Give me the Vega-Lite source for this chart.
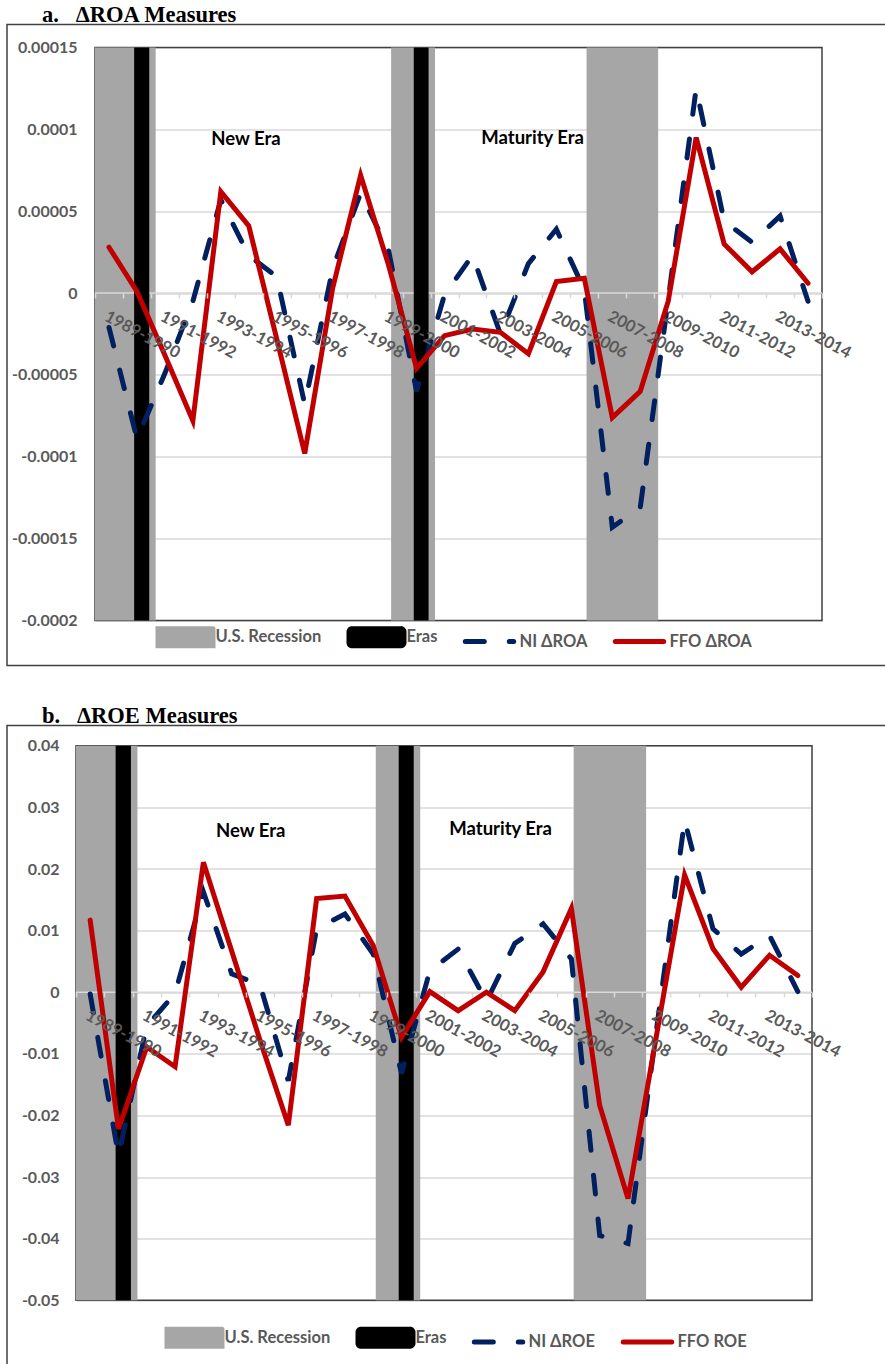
{
  "$schema": "https://vega.github.io/schema/vega-lite/v6.json",
  "background": "white",
  "padding": {"left": 6, "top": 2.5, "right": 0, "bottom": 0},
  "bounds": "flush",
  "spacing": 60,
  "config": {
    "view": {"stroke": "#404040", "strokeWidth": 1.5},
    "axis": {"labelFont": "Lato", "labelFontWeight": "bold", "labelColor": "#595959"},
    "legend": {"labelFont": "Lato", "labelFontWeight": "bold", "labelColor": "#595959", "labelFontSize": 16.5},
    "title": {"font": "Liberation Serif", "fontWeight": "bold", "fontSize": 22.5, "color": "#000000", "anchor": "start", "frame": "group", "baseline": "alphabetic", "offset": -1.5, "dx": 35}
  },
  "datasets": {
    "bands": [
      {"start": 1988.5, "end": 1990.67, "series": "U.S. Recession"},
      {"start": 1999.09, "end": 2000.66, "series": "U.S. Recession"},
      {"start": 2006.08, "end": 2008.64, "series": "U.S. Recession"}
    ],
    "eras": [
      {"start": 1989.9, "end": 1990.44, "series": "Eras"},
      {"start": 1999.9, "end": 2000.43, "series": "Eras"}
    ],
    "bands_b": [
      {"start": 1988.5, "end": 1990.67, "series": "U.S. Recession"},
      {"start": 1999.09, "end": 2000.66, "series": "U.S. Recession"},
      {"start": 2006.08, "end": 2008.64, "series": "U.S. Recession"}
    ],
    "eras_b": [
      {"start": 1989.9, "end": 1990.44, "series": "Eras"},
      {"start": 1999.9, "end": 2000.43, "series": "Eras"}
    ],
    "notes_a": [
      {"year": 1993.9, "value": 0.0000939, "label": "New Era"},
      {"year": 2004.15, "value": 0.000095, "label": "Maturity Era"}
    ],
    "notes_b": [
      {"year": 1994.67, "value": 0.0261, "label": "New Era"},
      {"year": 2003.5, "value": 0.0265, "label": "Maturity Era"}
    ],
    "roa": [
      {"year": 1989, "series": "NI ΔROA", "value": -0.000021},
      {"year": 1990, "series": "NI ΔROA", "value": -0.000089},
      {"year": 1991, "series": "NI ΔROA", "value": -0.000049},
      {"year": 1992, "series": "NI ΔROA", "value": -0.000005},
      {"year": 1993, "series": "NI ΔROA", "value": 0.000057},
      {"year": 1994, "series": "NI ΔROA", "value": 0.000023},
      {"year": 1995, "series": "NI ΔROA", "value": 0.000010},
      {"year": 1996, "series": "NI ΔROA", "value": -0.000068},
      {"year": 1997, "series": "NI ΔROA", "value": 0.000015},
      {"year": 1998, "series": "NI ΔROA", "value": 0.000061},
      {"year": 1999, "series": "NI ΔROA", "value": 0.000026},
      {"year": 2000, "series": "NI ΔROA", "value": -0.000060},
      {"year": 2001, "series": "NI ΔROA", "value": -0.000001},
      {"year": 2002, "series": "NI ΔROA", "value": 0.000023},
      {"year": 2003, "series": "NI ΔROA", "value": -0.000025},
      {"year": 2004, "series": "NI ΔROA", "value": 0.000018},
      {"year": 2005, "series": "NI ΔROA", "value": 0.000039},
      {"year": 2006, "series": "NI ΔROA", "value": 0.000002},
      {"year": 2007, "series": "NI ΔROA", "value": -0.000143},
      {"year": 2008, "series": "NI ΔROA", "value": -0.000131},
      {"year": 2009, "series": "NI ΔROA", "value": -0.000004},
      {"year": 2010, "series": "NI ΔROA", "value": 0.000125},
      {"year": 2011, "series": "NI ΔROA", "value": 0.000044},
      {"year": 2012, "series": "NI ΔROA", "value": 0.000031},
      {"year": 2013, "series": "NI ΔROA", "value": 0.000047},
      {"year": 2014, "series": "NI ΔROA", "value": -0.000005},
      {"year": 1989, "series": "FFO ΔROA", "value": 0.000028},
      {"year": 1990, "series": "FFO ΔROA", "value": 0.000001},
      {"year": 1991, "series": "FFO ΔROA", "value": -0.000038},
      {"year": 1992, "series": "FFO ΔROA", "value": -0.000078},
      {"year": 1993, "series": "FFO ΔROA", "value": 0.000062},
      {"year": 1994, "series": "FFO ΔROA", "value": 0.000041},
      {"year": 1995, "series": "FFO ΔROA", "value": -0.000028},
      {"year": 1996, "series": "FFO ΔROA", "value": -0.000098},
      {"year": 1997, "series": "FFO ΔROA", "value": 0.000003},
      {"year": 1998, "series": "FFO ΔROA", "value": 0.000072},
      {"year": 1999, "series": "FFO ΔROA", "value": 0.000017},
      {"year": 2000, "series": "FFO ΔROA", "value": -0.000046},
      {"year": 2001, "series": "FFO ΔROA", "value": -0.000026},
      {"year": 2002, "series": "FFO ΔROA", "value": -0.000022},
      {"year": 2003, "series": "FFO ΔROA", "value": -0.000024},
      {"year": 2004, "series": "FFO ΔROA", "value": -0.000037},
      {"year": 2005, "series": "FFO ΔROA", "value": 0.000007},
      {"year": 2006, "series": "FFO ΔROA", "value": 0.000009},
      {"year": 2007, "series": "FFO ΔROA", "value": -0.000076},
      {"year": 2008, "series": "FFO ΔROA", "value": -0.000060},
      {"year": 2009, "series": "FFO ΔROA", "value": -0.000005},
      {"year": 2010, "series": "FFO ΔROA", "value": 0.000095},
      {"year": 2011, "series": "FFO ΔROA", "value": 0.000030},
      {"year": 2012, "series": "FFO ΔROA", "value": 0.000013},
      {"year": 2013, "series": "FFO ΔROA", "value": 0.000027},
      {"year": 2014, "series": "FFO ΔROA", "value": 0.000006}
    ],
    "roe": [
      {"year": 1989, "series": "NI ΔROE", "value": -0.0003},
      {"year": 1990, "series": "NI ΔROE", "value": -0.0265},
      {"year": 1991, "series": "NI ΔROE", "value": -0.0055},
      {"year": 1992, "series": "NI ΔROE", "value": -0.0002},
      {"year": 1993, "series": "NI ΔROE", "value": 0.0163},
      {"year": 1994, "series": "NI ΔROE", "value": 0.0030},
      {"year": 1995, "series": "NI ΔROE", "value": 0.0012},
      {"year": 1996, "series": "NI ΔROE", "value": -0.0144},
      {"year": 1997, "series": "NI ΔROE", "value": 0.0103},
      {"year": 1998, "series": "NI ΔROE", "value": 0.0127},
      {"year": 1999, "series": "NI ΔROE", "value": 0.0062},
      {"year": 2000, "series": "NI ΔROE", "value": -0.0132},
      {"year": 2001, "series": "NI ΔROE", "value": 0.0035},
      {"year": 2002, "series": "NI ΔROE", "value": 0.0070},
      {"year": 2003, "series": "NI ΔROE", "value": -0.0015},
      {"year": 2004, "series": "NI ΔROE", "value": 0.0079},
      {"year": 2005, "series": "NI ΔROE", "value": 0.0111},
      {"year": 2006, "series": "NI ΔROE", "value": 0.0054},
      {"year": 2007, "series": "NI ΔROE", "value": -0.0395},
      {"year": 2008, "series": "NI ΔROE", "value": -0.0408},
      {"year": 2009, "series": "NI ΔROE", "value": -0.0063},
      {"year": 2010, "series": "NI ΔROE", "value": 0.0279},
      {"year": 2011, "series": "NI ΔROE", "value": 0.0103},
      {"year": 2012, "series": "NI ΔROE", "value": 0.0062},
      {"year": 2013, "series": "NI ΔROE", "value": 0.0092},
      {"year": 2014, "series": "NI ΔROE", "value": 0.0001},
      {"year": 1989, "series": "FFO ROE", "value": 0.0117},
      {"year": 1990, "series": "FFO ROE", "value": -0.0222},
      {"year": 1991, "series": "FFO ROE", "value": -0.0089},
      {"year": 1992, "series": "FFO ROE", "value": -0.0121},
      {"year": 1993, "series": "FFO ROE", "value": 0.0211},
      {"year": 1994, "series": "FFO ROE", "value": 0.0067},
      {"year": 1995, "series": "FFO ROE", "value": -0.0078},
      {"year": 1996, "series": "FFO ROE", "value": -0.0216},
      {"year": 1997, "series": "FFO ROE", "value": 0.0152},
      {"year": 1998, "series": "FFO ROE", "value": 0.0156},
      {"year": 1999, "series": "FFO ROE", "value": 0.0076},
      {"year": 2000, "series": "FFO ROE", "value": -0.0073},
      {"year": 2001, "series": "FFO ROE", "value": 0.0001},
      {"year": 2002, "series": "FFO ROE", "value": -0.0030},
      {"year": 2003, "series": "FFO ROE", "value": 0.0000},
      {"year": 2004, "series": "FFO ROE", "value": -0.0030},
      {"year": 2005, "series": "FFO ROE", "value": 0.0033},
      {"year": 2006, "series": "FFO ROE", "value": 0.0136},
      {"year": 2007, "series": "FFO ROE", "value": -0.0184},
      {"year": 2008, "series": "FFO ROE", "value": -0.0335},
      {"year": 2009, "series": "FFO ROE", "value": -0.0072},
      {"year": 2010, "series": "FFO ROE", "value": 0.0190},
      {"year": 2011, "series": "FFO ROE", "value": 0.0071},
      {"year": 2012, "series": "FFO ROE", "value": 0.0008},
      {"year": 2013, "series": "FFO ROE", "value": 0.0060},
      {"year": 2014, "series": "FFO ROE", "value": 0.0027}
    ]
  },
  "resolve": {"scale": {"color": "independent"}, "legend": {"color": "independent"}},
  "vconcat": [
    {
      "width": 880,
      "height": 641,
      "title": {"text": "a.\u00a0\u00a0\u00a0ΔROA Measures"},
      "resolve": {"axis": {"x": "independent", "y": "independent"}},
      "layer": [
        {
          "data": {"values": [{}]},
          "mark": {"type": "rect", "fill": "transparent", "stroke": "#404040", "strokeWidth": 1.5},
          "encoding": {
            "x": {"datum": 1988.5, "type": "quantitative",
              "scale": {"domain": [1988.5, 2014.5], "range": [88, 815], "nice": false, "zero": false},
              "axis": {"orient": "bottom", "offset": -372.6, "values": [1988.5,1989.5,1990.5,1991.5,1992.5,1993.5,1994.5,1995.5,1996.5,1997.5,1998.5,1999.5,2000.5,2001.5,2002.5,2003.5,2004.5,2005.5,2006.5,2007.5,2008.5,2009.5,2010.5,2011.5,2012.5,2013.5,2014.5], "labels": false, "domain": false, "grid": false, "ticks": true, "tickColor": "#D9D9D9", "tickWidth": 1.5, "tickSize": 5, "title": null, "zindex": 1}},
            "x2": {"datum": 2014.5},
            "y": {"datum": -0.0002, "type": "quantitative",
              "scale": {"domain": [-0.0002, 0.00015], "range": [596, 23], "nice": false, "zero": false},
              "axis": {"orient": "left", "offset": -88, "values": [-0.0002, -0.00015, -0.0001, -0.00005, 0, 0.00005, 0.0001, 0.00015], "labelExpr": "'' + datum.value", "labelPadding": 18, "labelFontSize": 16, "ticks": false, "domain": false, "grid": true, "gridColor": "#D9D9D9", "gridWidth": 1.5, "title": null}},
            "y2": {"datum": 0.00015}
          }
        },
        {
          "data": {"name": "bands"},
          "mark": {"type": "rect"},
          "encoding": {
            "x": {"field": "start", "type": "quantitative", "axis": null},
            "x2": {"field": "end"},
            "y": {"datum": -0.0002, "type": "quantitative", "axis": null},
            "y2": {"datum": 0.00015},
            "color": {"field": "series", "type": "nominal",
              "scale": {"domain": ["U.S. Recession", "Eras", "NI ΔROA", "FFO ΔROA"], "range": ["#A6A6A6", "#000000", "#002060", "#C00000"]},
              "legend": {"orient": "none", "legendX": 148.5, "legendY": 582.5, "direction": "horizontal", "columns": 4, "title": null, "padding": 0, "symbolSize": 3025, "symbolStrokeWidth": 5, "labelOffset": 0, "columnPadding": 17, "labelLimit": 300,
                "encode": {"symbols": {"update": {
                  "shape": {"signal": "datum.value == 'U.S. Recession' ? 'M-1,-0.31H1V0.31H-1Z' : datum.value == 'Eras' ? 'M-0.89,-0.31H0.89A0.11,0.11 0 0 1 1,-0.2V0.2A0.11,0.11 0 0 1 0.89,0.31H-0.89A0.11,0.11 0 0 1 -1,0.2V-0.2A0.11,0.11 0 0 1 -0.89,-0.31Z' : 'M-0.88,0H0.88'"},
                  "fill": {"signal": "datum.value == 'U.S. Recession' ? '#A6A6A6' : datum.value == 'Eras' ? '#000000' : 'transparent'"},
                  "stroke": {"signal": "datum.value == 'NI ΔROA' ? '#002060' : datum.value == 'FFO ΔROA' ? '#C00000' : 'transparent'"},
                  "strokeDash": {"signal": "datum.value == 'NI ΔROA' ? [19, 25] : [1, 0]"},
                  "strokeWidth": {"value": 5},
                  "strokeCap": {"value": "round"},
                  "opacity": {"value": 1},
                  "fillOpacity": {"value": 1},
                  "strokeOpacity": {"value": 1},
                  "size": {"value": 3025}
                }}}}
            }
          }
        },
        {
          "data": {"values": [{}]},
          "mark": {"type": "rule", "color": "#D9D9D9", "strokeWidth": 1.5},
          "encoding": {
            "x": {"datum": 1988.5, "type": "quantitative", "axis": null},
            "x2": {"datum": 2014.5},
            "y": {"datum": 0, "type": "quantitative", "axis": null}
          }
        },
        {
          "data": {"name": "eras"},
          "mark": {"type": "rect"},
          "encoding": {
            "x": {"field": "start", "type": "quantitative", "axis": null},
            "x2": {"field": "end"},
            "y": {"datum": -0.0002, "type": "quantitative", "axis": null},
            "y2": {"datum": 0.00015},
            "color": {"field": "series", "type": "nominal"}
          }
        },
        {
          "data": {"name": "roa"},
          "transform": [{"filter": "datum.series == 'NI ΔROA'"}],
          "mark": {"type": "line", "strokeWidth": 5, "strokeDash": [19, 25], "strokeCap": "round"},
          "encoding": {
            "x": {"field": "year", "type": "quantitative",
              "axis": {"orient": "bottom", "offset": -372.6, "values": [1989,1991,1993,1995,1997,1999,2001,2003,2005,2007,2009,2011,2013], "labelExpr": "datum.value + '-' + (datum.value + 1)", "labelAngle": 28, "labelAlign": "left", "labelBaseline": "top", "labelPadding": 15, "labelFontSize": 16.5, "labelOverlap": false, "labelFlush": false, "labelBound": false, "ticks": false, "domain": false, "grid": false, "title": null, "zindex": 1}},
            "y": {"field": "value", "type": "quantitative", "axis": null},
            "color": {"field": "series", "type": "nominal"}
          }
        },
        {
          "data": {"name": "roa"},
          "transform": [{"filter": "datum.series == 'FFO ΔROA'"}],
          "mark": {"type": "line", "strokeWidth": 5, "strokeCap": "round", "strokeJoin": "miter"},
          "encoding": {
            "x": {"field": "year", "type": "quantitative", "axis": null},
            "y": {"field": "value", "type": "quantitative", "axis": null},
            "color": {"field": "series", "type": "nominal"}
          }
        },
        {
          "data": {"name": "notes_a"},
          "mark": {"type": "text", "font": "Lato", "fontWeight": "bold", "fontSize": 18.5, "color": "#000000", "align": "center", "baseline": "middle"},
          "encoding": {
            "x": {"field": "year", "type": "quantitative", "axis": null},
            "y": {"field": "value", "type": "quantitative", "axis": null},
            "text": {"field": "label"}
          }
        }
      ]
    },
    {
      "width": 880,
      "height": 644,
      "title": {"text": "b.\u00a0\u00a0\u00a0ΔROE Measures"},
      "resolve": {"axis": {"x": "independent", "y": "independent"}},
      "layer": [
        {
          "data": {"values": [{}]},
          "mark": {"type": "rect", "fill": "transparent", "stroke": "#404040", "strokeWidth": 1.5},
          "encoding": {
            "x": {"datum": 1988.5, "type": "quantitative",
              "scale": {"domain": [1988.5, 2014.5], "range": [69, 805], "nice": false, "zero": false},
              "axis": {"orient": "bottom", "offset": -377.5, "values": [1988.5,1989.5,1990.5,1991.5,1992.5,1993.5,1994.5,1995.5,1996.5,1997.5,1998.5,1999.5,2000.5,2001.5,2002.5,2003.5,2004.5,2005.5,2006.5,2007.5,2008.5,2009.5,2010.5,2011.5,2012.5,2013.5,2014.5], "labels": false, "domain": false, "grid": false, "ticks": true, "tickColor": "#D9D9D9", "tickWidth": 1.5, "tickSize": 5, "title": null, "zindex": 1}},
            "x2": {"datum": 2014.5},
            "y": {"datum": -0.05, "type": "quantitative",
              "scale": {"domain": [-0.05, 0.04], "range": [574.7, 20.3], "nice": false, "zero": false},
              "axis": {"orient": "left", "offset": -69, "values": [-0.05, -0.04, -0.03, -0.02, -0.01, 0, 0.01, 0.02, 0.03, 0.04], "labelExpr": "'' + datum.value", "labelPadding": 17, "labelFontSize": 16, "ticks": false, "domain": false, "grid": true, "gridColor": "#D9D9D9", "gridWidth": 1.5, "title": null}},
            "y2": {"datum": 0.04}
          }
        },
        {
          "data": {"name": "bands_b"},
          "mark": {"type": "rect"},
          "encoding": {
            "x": {"field": "start", "type": "quantitative", "axis": null},
            "x2": {"field": "end"},
            "y": {"datum": -0.05, "type": "quantitative", "axis": null},
            "y2": {"datum": 0.04},
            "color": {"field": "series", "type": "nominal",
              "scale": {"domain": ["U.S. Recession", "Eras", "NI ΔROE", "FFO ROE"], "range": ["#A6A6A6", "#000000", "#002060", "#C00000"]},
              "legend": {"orient": "none", "legendX": 157.5, "legendY": 582, "direction": "horizontal", "columns": 4, "title": null, "padding": 0, "symbolSize": 3025, "symbolStrokeWidth": 5, "labelOffset": 0, "columnPadding": 17, "labelLimit": 300,
                "encode": {"symbols": {"update": {
                  "shape": {"signal": "datum.value == 'U.S. Recession' ? 'M-1,-0.31H1V0.31H-1Z' : datum.value == 'Eras' ? 'M-0.89,-0.31H0.89A0.11,0.11 0 0 1 1,-0.2V0.2A0.11,0.11 0 0 1 0.89,0.31H-0.89A0.11,0.11 0 0 1 -1,0.2V-0.2A0.11,0.11 0 0 1 -0.89,-0.31Z' : 'M-0.88,0H0.88'"},
                  "fill": {"signal": "datum.value == 'U.S. Recession' ? '#A6A6A6' : datum.value == 'Eras' ? '#000000' : 'transparent'"},
                  "stroke": {"signal": "datum.value == 'NI ΔROE' ? '#002060' : datum.value == 'FFO ROE' ? '#C00000' : 'transparent'"},
                  "strokeDash": {"signal": "datum.value == 'NI ΔROE' ? [19, 25] : [1, 0]"},
                  "strokeWidth": {"value": 5},
                  "strokeCap": {"value": "round"},
                  "opacity": {"value": 1},
                  "fillOpacity": {"value": 1},
                  "strokeOpacity": {"value": 1},
                  "size": {"value": 3025}
                }}}}
            }
          }
        },
        {
          "data": {"values": [{}]},
          "mark": {"type": "rule", "color": "#D9D9D9", "strokeWidth": 1.5},
          "encoding": {
            "x": {"datum": 1988.5, "type": "quantitative", "axis": null},
            "x2": {"datum": 2014.5},
            "y": {"datum": 0, "type": "quantitative", "axis": null}
          }
        },
        {
          "data": {"name": "eras_b"},
          "mark": {"type": "rect"},
          "encoding": {
            "x": {"field": "start", "type": "quantitative", "axis": null},
            "x2": {"field": "end"},
            "y": {"datum": -0.05, "type": "quantitative", "axis": null},
            "y2": {"datum": 0.04},
            "color": {"field": "series", "type": "nominal"}
          }
        },
        {
          "data": {"name": "roe"},
          "transform": [{"filter": "datum.series == 'NI ΔROE'"}],
          "mark": {"type": "line", "strokeWidth": 5, "strokeDash": [19, 25], "strokeCap": "round"},
          "encoding": {
            "x": {"field": "year", "type": "quantitative",
              "axis": {"orient": "bottom", "offset": -377.5, "values": [1989,1991,1993,1995,1997,1999,2001,2003,2005,2007,2009,2011,2013], "labelExpr": "datum.value + '-' + (datum.value + 1)", "labelAngle": 28, "labelAlign": "left", "labelBaseline": "top", "labelPadding": 15, "labelFontSize": 16.5, "labelOverlap": false, "labelFlush": false, "labelBound": false, "ticks": false, "domain": false, "grid": false, "title": null, "zindex": 1}},
            "y": {"field": "value", "type": "quantitative", "axis": null},
            "color": {"field": "series", "type": "nominal"}
          }
        },
        {
          "data": {"name": "roe"},
          "transform": [{"filter": "datum.series == 'FFO ROE'"}],
          "mark": {"type": "line", "strokeWidth": 5, "strokeCap": "round", "strokeJoin": "miter"},
          "encoding": {
            "x": {"field": "year", "type": "quantitative", "axis": null},
            "y": {"field": "value", "type": "quantitative", "axis": null},
            "color": {"field": "series", "type": "nominal"}
          }
        },
        {
          "data": {"name": "notes_b"},
          "mark": {"type": "text", "font": "Lato", "fontWeight": "bold", "fontSize": 18.5, "color": "#000000", "align": "center", "baseline": "middle"},
          "encoding": {
            "x": {"field": "year", "type": "quantitative", "axis": null},
            "y": {"field": "value", "type": "quantitative", "axis": null},
            "text": {"field": "label"}
          }
        }
      ]
    }
  ]
}
